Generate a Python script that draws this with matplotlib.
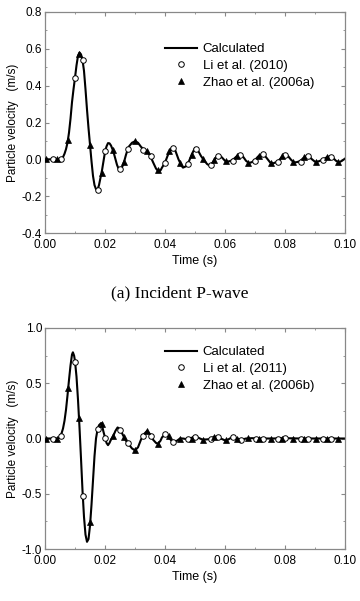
import matplotlib
matplotlib.use("Agg")
import matplotlib.pyplot as plt
from matplotlib.ticker import MultipleLocator, FormatStrFormatter

# ---------------- Data: (a) Incident P-wave ----------------
calc_a_t = [0.0, 0.002, 0.004, 0.005, 0.0055, 0.006, 0.0065, 0.007, 0.0075, 0.008, 0.0085,
            0.009, 0.0095, 0.010, 0.0105, 0.011, 0.0115, 0.012, 0.0125, 0.013, 0.0135,
            0.014, 0.0145, 0.015, 0.0155, 0.016, 0.0165, 0.017, 0.0175, 0.018, 0.0185,
            0.019, 0.0195, 0.020, 0.0205, 0.021, 0.0215, 0.022, 0.0225, 0.023, 0.0235,
            0.024, 0.0245, 0.025, 0.0255, 0.026, 0.0265, 0.027, 0.0275, 0.028, 0.029,
            0.030, 0.031, 0.032, 0.033, 0.034, 0.035, 0.036, 0.037, 0.0377, 0.0385,
            0.039, 0.040, 0.041, 0.042, 0.0426, 0.0435, 0.0445, 0.0455, 0.046, 0.047,
            0.048, 0.049, 0.050, 0.051, 0.052, 0.053, 0.054, 0.055, 0.056, 0.057,
            0.058, 0.059, 0.060, 0.061, 0.062, 0.063, 0.064, 0.065, 0.066, 0.067,
            0.068, 0.069, 0.070, 0.071, 0.072, 0.073, 0.074, 0.075, 0.076, 0.077,
            0.078, 0.079, 0.080, 0.081, 0.082, 0.083, 0.084, 0.085, 0.086, 0.087,
            0.088, 0.089, 0.090, 0.091, 0.092, 0.093, 0.094, 0.095, 0.096, 0.097,
            0.098, 0.099, 0.100]
calc_a_v = [0.0, 0.0, 0.0, 0.0, 0.003, 0.012, 0.03, 0.055, 0.09, 0.145, 0.22,
            0.31, 0.38, 0.443, 0.51, 0.562, 0.58, 0.57, 0.54, 0.48, 0.38,
            0.27, 0.17, 0.08, -0.01, -0.09, -0.14, -0.162, -0.165, -0.14, -0.10,
            -0.06, -0.01, 0.04, 0.07, 0.088, 0.087, 0.075, 0.055, 0.03, 0.0,
            -0.03, -0.05, -0.056, -0.05, -0.03, -0.005, 0.025, 0.05, 0.07, 0.09,
            0.098, 0.09, 0.068, 0.052, 0.045, 0.022, -0.015, -0.05, -0.063, -0.06,
            -0.045, -0.018, 0.025, 0.058, 0.065, 0.045, 0.0, -0.035, -0.045, -0.038,
            -0.01, 0.03, 0.062, 0.048, 0.018, -0.005, -0.025, -0.036, -0.015, 0.012,
            0.024, 0.01, -0.008, -0.012, -0.008, 0.003, 0.018, 0.025, 0.015, -0.008,
            -0.02, -0.015, -0.004, 0.015, 0.026, 0.025, 0.005, -0.016, -0.022, -0.016,
            -0.005, 0.014, 0.026, 0.018, -0.002, -0.017, -0.015, -0.01, 0.005, 0.016,
            0.016, 0.0, -0.013, -0.012, -0.006, 0.002, 0.012, 0.016, 0.008, -0.008,
            -0.016, -0.008, 0.004]

li_a_t = [0.0025, 0.0052, 0.0100, 0.0127, 0.0176, 0.0201, 0.0251, 0.0276, 0.0326, 0.0352,
          0.0401, 0.0426, 0.0476, 0.0502, 0.0552, 0.0577, 0.0627, 0.0651, 0.0701, 0.0727,
          0.0777, 0.0801, 0.0852, 0.0877, 0.0927, 0.0952]
li_a_v = [0.0, 0.0, 0.443, 0.539, -0.165, 0.047, -0.054, 0.054, 0.051, 0.02,
          -0.018, 0.06, -0.027, 0.058, -0.033, 0.018, -0.007, 0.022, -0.007, 0.027,
          -0.013, 0.024, -0.013, 0.016, -0.005, 0.014]

zhao_a_t = [0.0003, 0.0039, 0.0077, 0.0113, 0.0151, 0.0189, 0.0227, 0.0264, 0.0301, 0.0339,
            0.0377, 0.0414, 0.0451, 0.0489, 0.0527, 0.0563, 0.0602, 0.0640, 0.0677, 0.0714,
            0.0752, 0.0790, 0.0828, 0.0864, 0.0902, 0.0940, 0.0978]
zhao_a_v = [0.0, 0.0, 0.107, 0.572, 0.08, -0.074, 0.049, -0.015, 0.098, 0.047,
            -0.058, 0.043, -0.02, 0.025, 0.002, -0.005, -0.009, 0.018, -0.018, 0.02,
            -0.02, 0.016, -0.014, 0.013, -0.013, 0.013, -0.016]

# ---------------- Data: (b) ----------------
calc_b_t = [0.0, 0.002, 0.004, 0.0045, 0.005, 0.0055, 0.006, 0.0065, 0.007, 0.0075, 0.008,
            0.0085, 0.009, 0.0093, 0.0097, 0.010, 0.0105, 0.011, 0.0115, 0.012, 0.0125,
            0.013, 0.0135, 0.014, 0.0145, 0.015, 0.0155, 0.016, 0.0165, 0.017, 0.0175,
            0.018, 0.0187, 0.019, 0.0195, 0.020, 0.0205, 0.021, 0.0215, 0.022, 0.0227,
            0.0235, 0.0242, 0.025, 0.026, 0.027, 0.028, 0.029, 0.030, 0.031, 0.032,
            0.033, 0.034, 0.035, 0.036, 0.037, 0.0377, 0.0385, 0.039, 0.040, 0.041,
            0.042, 0.0428, 0.044, 0.045, 0.046, 0.047, 0.048, 0.050, 0.051, 0.0525,
            0.054, 0.055, 0.0565, 0.0575, 0.059, 0.060, 0.061, 0.0625, 0.064, 0.0652,
            0.067, 0.069, 0.071, 0.073, 0.076, 0.080, 0.085, 0.090, 0.095, 0.100]
calc_b_v = [0.0, 0.0, 0.0, 0.005, 0.02, 0.045, 0.09, 0.16, 0.26, 0.39, 0.53,
            0.66, 0.76, 0.78, 0.75, 0.70, 0.56, 0.35, 0.10, -0.18, -0.47,
            -0.71, -0.87, -0.935, -0.91, -0.79, -0.60, -0.38, -0.16, 0.0, 0.08,
            0.12, 0.14, 0.12, 0.06, 0.01, -0.04, -0.06, -0.04, -0.01, 0.02,
            0.07, 0.10, 0.085, 0.03, -0.02, -0.055, -0.09, -0.107, -0.08, -0.01,
            0.04, 0.068, 0.04, -0.01, -0.04, -0.047, -0.02, 0.01, 0.038, 0.025,
            -0.015, -0.035, -0.02, 0.0, 0.0, -0.005, 0.0, 0.014, 0.008, -0.01,
            -0.008, -0.005, 0.017, 0.012, -0.005, -0.017, -0.01, 0.014, 0.0, -0.014,
            0.0, 0.003, 0.0, 0.0, 0.0, 0.003, 0.0, 0.0, 0.0, 0.0]

li_b_t = [0.0025, 0.0052, 0.0101, 0.0126, 0.0176, 0.0201, 0.0250, 0.0277, 0.0326, 0.0352,
          0.0401, 0.0426, 0.0476, 0.0501, 0.0552, 0.0578, 0.0627, 0.0652, 0.0702, 0.0727,
          0.0777, 0.0801, 0.0852, 0.0877, 0.0927, 0.0952]
li_b_v = [0.0, 0.026, 0.69, -0.517, 0.086, 0.005, 0.077, -0.04, 0.023, 0.023,
          0.038, -0.035, -0.005, 0.014, -0.005, 0.01, 0.014, -0.014, 0.0, 0.0,
          0.0, 0.005, 0.0, -0.008, -0.005, 0.0]

zhao_b_t = [0.0003, 0.0039, 0.0077, 0.0113, 0.0151, 0.0189, 0.0227, 0.0264, 0.0301, 0.0339,
            0.0377, 0.0414, 0.0451, 0.0489, 0.0527, 0.0563, 0.0602, 0.0640, 0.0677, 0.0714,
            0.0752, 0.0790, 0.0828, 0.0864, 0.0902, 0.0940, 0.0978]
zhao_b_v = [0.0, 0.0, 0.46, 0.185, -0.76, 0.128, 0.02, 0.013, -0.107, 0.065,
            -0.046, 0.02, 0.0, -0.005, -0.01, 0.017, -0.017, -0.005, 0.005, 0.0,
            0.0, 0.0, 0.0, 0.0, 0.0, 0.0, 0.0]

plt.rcParams['font.family'] = ['Liberation Sans', 'DejaVu Sans']

fig = plt.figure(figsize=(3.6, 6.01), dpi=100)
ax1 = fig.add_axes([45/360, 1-233/601, 300/360, 221/601])
ax2 = fig.add_axes([45/360, 1-549/601, 300/360, 221/601])

def style(ax, ylim, ymaj, ymin, yfmt):
    ax.set_xlim(0, 0.10)
    ax.set_ylim(*ylim)
    ax.xaxis.set_major_locator(MultipleLocator(0.02))
    ax.xaxis.set_minor_locator(MultipleLocator(0.01))
    ax.yaxis.set_major_locator(MultipleLocator(ymaj))
    ax.yaxis.set_minor_locator(MultipleLocator(ymin))
    ax.xaxis.set_major_formatter(FormatStrFormatter('%.2f'))
    ax.yaxis.set_major_formatter(FormatStrFormatter(yfmt))
    ax.tick_params(which='both', direction='in', top=True, right=True,
                   color='#888888', labelsize=8.5)
    ax.tick_params(axis='x', which='major', pad=4)
    ax.tick_params(axis='y', which='major', pad=2)
    ax.tick_params(which='major', length=3, width=0.8)
    ax.tick_params(which='minor', length=1.5, width=0.6)
    for s in ax.spines.values():
        s.set_color('#888888')
        s.set_linewidth(0.9)
    ax.set_xlabel('Time (s)', fontsize=9, labelpad=3)
    ax.set_ylabel('Particle velocity   (m/s)', fontsize=8.5, labelpad=2)

def draw(ax, ct, cv, lt, lv, zt, zv, lilab, zlab, leg_y):
    ax.plot(ct, cv, color='black', lw=1.5, label='Calculated', zorder=2)
    ax.plot(lt, lv, 'o', ms=4.0, mfc='white', mec='black', mew=0.7, label=lilab, zorder=3)
    ax.plot(zt, zv, '^', ms=4.6, mfc='black', mec='black', mew=0.5, label=zlab, zorder=3)
    ax.legend(loc='upper left', bbox_to_anchor=(0.40, leg_y), frameon=False, fontsize=9.5,
              handlelength=2.4, handletextpad=0.45, labelspacing=0.34,
              borderaxespad=0, borderpad=0)

draw(ax1, calc_a_t, calc_a_v, li_a_t, li_a_v, zhao_a_t, zhao_a_v,
     'Li et al. (2010)', 'Zhao et al. (2006a)', 0.86)
style(ax1, (-0.4, 0.8), 0.2, 0.1, '%.1f')

draw(ax2, calc_b_t, calc_b_v, li_b_t, li_b_v, zhao_b_t, zhao_b_v,
     'Li et al. (2011)', 'Zhao et al. (2006b)', 0.919)
style(ax2, (-1.0, 1.0), 0.5, 0.25, '%.1f')

fig.text(0.5, 1-293/601, '(a) Incident P-wave', ha='center', va='center',
         fontsize=12.5, family=['Liberation Serif', 'DejaVu Serif'])

fig.savefig('out.png', dpi=100)
